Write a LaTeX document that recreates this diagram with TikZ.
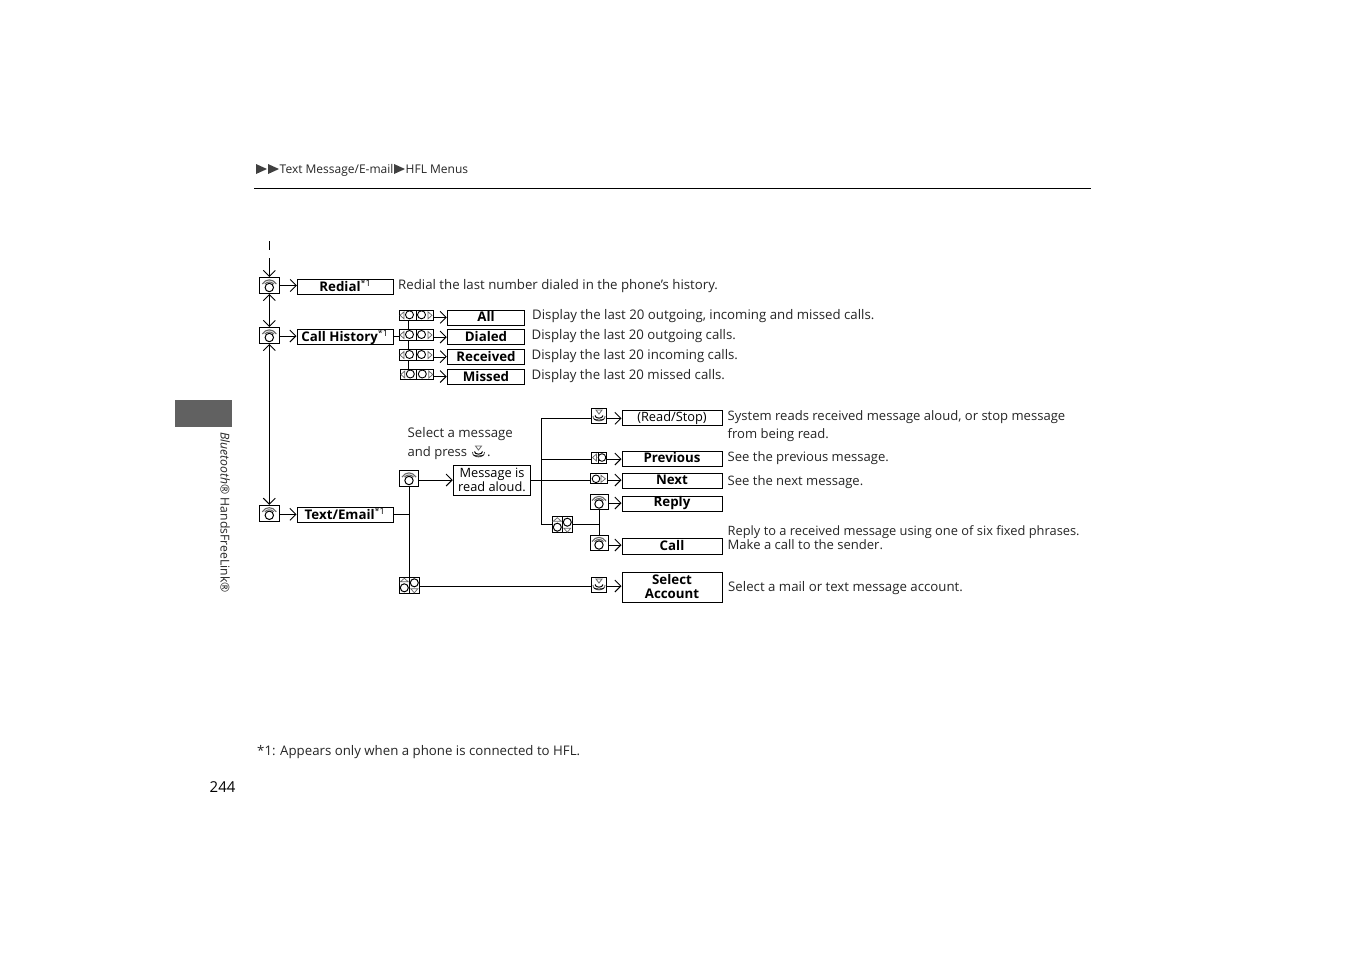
\documentclass[tikz,border=0pt]{standalone}
\usepackage{fontspec}
\setmainfont{Open Sans}
\usetikzlibrary{arrows.meta}
\newcommand{\bodyfs}{\fontsize{13.25}{14}\selectfont}
\newcommand{\rightfs}{\fontsize{13.05}{14}\selectfont}
\newcommand{\labfs}{\fontsize{13.3}{14}\selectfont\bfseries}
\newcommand{\smallast}{\textsuperscript{\fontsize{9}{9}\selectfont\mdseries *1}}
\tikzset{
  x=1pt,y=-1pt,
  line width=1pt,
  barb/.style={-{Straight Barb[length=6pt,width=12pt,line width=.9pt]}},
  bibarb/.style={{Straight Barb[length=6pt,width=12pt,line width=.9pt]}-{Straight Barb[length=6pt,width=12pt,line width=.9pt]}},
  lnk/.style={line width=1pt},
  txt/.style={anchor=base west,inner sep=0pt,font=\bodyfs,text=black!85},
  rtxt/.style={txt,font=\rightfs},
  menubox/.style={draw,line width=1pt,inner sep=0pt,minimum width=#1,align=center,font=\labfs},
  menubox/.default=96,
  iconbox/.style={draw,line width=1pt,inner sep=0pt,fill=white},
  phonepic/.pic={
    \draw[black!60,line width=1.1pt] (-7,-1.5) .. controls (-3.5,-7) and (3.5,-7) .. (7,-1.5);
    \draw[black!60,line width=1pt] (-4.5,-1.5) .. controls (-2,-4.2) and (2,-4.2) .. (4.5,-1.5);
    \draw[line width=1pt] (0,2) circle (4.2);
  },
  pressed/.pic={
    \draw[black!60,line width=.8pt] (-3,-6) -- (3,-6) -- (0,-2) -- cycle;
    \draw[line width=1pt] (-4,-.5) .. controls (-4,3) and (4,3) .. (4,-.5);
    \draw[black!70,line width=.8pt] (-6,0) .. controls (-6.5,6.5) and (6.5,6.5) .. (6,0);
    \draw[line width=.8pt] (-5,3) .. controls (-4,4.3) and (4,4.3) .. (5,3);
  },
  prevpic/.pic={
    \draw[black!60,line width=.7pt] (-2.5,-3.5) -- (-6.5,0) -- (-2.5,3.5) -- cycle;
    \draw[line width=.9pt] (-1,-5) -- (-1,5);
    \draw[line width=.9pt] (3,0) circle (3.8);
  },
  nextpic/.pic={
    \draw[black!60,line width=.7pt] (2.5,-3.5) -- (7,0) -- (2.5,3.5) -- cycle;
    \draw[line width=.9pt] (-2.5,0) circle (3.8);
  },
  dualpic/.pic={
    \draw[black!60,line width=.7pt] (-16,0) -- (-12,-3.5) -- (-12,3.5) -- cycle;
    \draw[line width=.9pt] (-6.5,-.5) circle (4);
    \draw[line width=.9pt] (0,-5) -- (0,5);
    \draw[line width=.9pt] (5.5,-.5) circle (4);
    \draw[black!60,line width=.7pt] (16,0) -- (12,-3.5) -- (12,3.5) -- cycle;
  },
  updnpic/.pic={
    \draw[black!60,line width=.7pt] (-9,-3.5) -- (-5,-7) -- (-1,-3.5) -- cycle;
    \draw[line width=1pt] (-5,2.5) circle (4);
    \draw[line width=.9pt] (0,-8) -- (0,8);
    \draw[line width=1pt] (5,-2.5) circle (4);
    \draw[black!60,line width=.7pt] (1.5,3.5) -- (8.5,3.5) -- (5,7.5) -- cycle;
  },
}
\begin{document}
\begin{tikzpicture}
\useasboundingbox (0,0) rectangle (1350,954);
\fill[white] (0,0) rectangle (1350,954);

% header
\coordinate (ruleL) at (254,188.5);
\coordinate (ruleR) at (1091,188.5);
\draw[line width=1pt] (ruleL) -- (ruleR);
\fill[black!75] (256,164) -- (267,169) -- (256,174) -- cycle;
\fill[black!75] (268,164) -- (279,169) -- (268,174) -- cycle;
\node[txt,font=\fontsize{12}{13}\selectfont] (crumbA) at (279.5,173) {Text Message/E-mail};
\fill[black!75] (394,164) -- (405,169) -- (394,174) -- cycle;
\node[txt,font=\fontsize{12}{13}\selectfont] (crumbB) at (405.5,173) {HFL Menus};

% side tab
\fill[black!62] (175,400) rectangle (231.5,426.7);
\node[anchor=base west,rotate=-90,inner sep=0pt,font=\fontsize{12.2}{12}\selectfont,text=black!85] (side) at (220.5,432) {\textit{Bluetooth®} HandsFreeLink®};

% phones
\node[iconbox,minimum width=20,minimum height=16] (p1) at (269.3,285.5) {};
\node[iconbox,minimum width=20,minimum height=16] (p2) at (269.3,335.5) {};
\node[iconbox,minimum width=20,minimum height=16] (p3) at (269.3,513.3) {};
\node[iconbox,minimum width=19.5,minimum height=16] (p4) at (409,478.5) {};
\node[iconbox,minimum width=18,minimum height=15.5] (p5) at (599,502) {};
\node[iconbox,minimum width=18,minimum height=15.5] (p6) at (599,543) {};
\foreach \n in {p1,p2,p3,p4,p5,p6} \pic at (\n) {phonepic};

% menu boxes, left
\node[menubox=96,minimum height=15] (redial) at (345.3,286.8) {\raisebox{3pt}{Redial\smallast}};
\node[menubox=96,minimum height=15] (hist) at (345,336.8) {\raisebox{-.5pt}{Call History\smallast}};
\node[menubox=96,minimum height=15] (text) at (345,514.8) {\raisebox{2pt}{Text/Email\smallast}};

% dial rows
\node[iconbox,minimum width=34,minimum height=10.5] (d1) at (416,315.3) {};
\node[iconbox,minimum width=34,minimum height=10.5] (d2) at (416,335) {};
\node[iconbox,minimum width=34,minimum height=10.5] (d3) at (416,355) {};
\node[iconbox,minimum width=33,minimum height=10.5] (d4) at (416.8,374.5) {};
\foreach \n in {d1,d2,d3,d4} \pic at (\n) {dualpic};

\node[menubox=77.5,minimum height=15] (all) at (486,317.8) {\raisebox{2.5pt}{All}};
\node[menubox=77.5,minimum height=15] (dialed) at (486,337.3) {\raisebox{1.5pt}{Dialed}};
\node[menubox=77.5,minimum height=15] (received) at (486,356.8) {\raisebox{1.5pt}{Received}};
\node[menubox=77.5,minimum height=15] (missed) at (486,377) {\raisebox{1.5pt}{Missed}};

% message
\node[menubox=77.5,minimum height=30,font=\fontsize{12.8}{13.5}\selectfont] (msg) at (492,480.7) {\raisebox{2.5pt}{Message is}\\\raisebox{2pt}{read aloud.}};

% right column icons
\node[iconbox,minimum width=15.5,minimum height=15] (rs) at (599,416) {};
\pic at (rs) {pressed};
\node[iconbox,minimum width=15.5,minimum height=11] (prev) at (599,457.5) {};
\pic at (prev) {prevpic};
\node[iconbox,minimum width=17,minimum height=10] (nxt) at (598.5,478.8) {};
\pic at (nxt) {nextpic};
\node[iconbox,minimum width=15.5,minimum height=15] (sa) at (599,585) {};
\pic at (sa) {pressed};
\node[iconbox,minimum width=20,minimum height=16] (ud1) at (562.3,524.7) {};
\pic at (ud1) {updnpic};
\node[iconbox,minimum width=20,minimum height=16] (ud2) at (409.3,585.3) {};
\pic at (ud2) {updnpic};

% right column boxes
\node[menubox=100,minimum height=15] (readstop) at (672,417.7) {\raisebox{-.5pt}{\fontsize{12.8}{14}\selectfont\mdseries (Read/Stop)}};
\node[menubox=100,minimum height=14.5] (previous) at (672,458.8) {\raisebox{2pt}{Previous}};
\node[menubox=100,minimum height=15] (next) at (672,480.8) {\raisebox{2pt}{Next}};
\node[menubox=100,minimum height=15] (reply) at (672,503.8) {\raisebox{4pt}{Reply}};
\node[menubox=100,minimum height=15.5] (call) at (672,546.5) {\raisebox{1.5pt}{Call}};
\node[menubox=100,minimum height=30,font=\fontsize{13.3}{14}\selectfont\bfseries] (acct) at (672,587.3) {\raisebox{2.5pt}{Select}\\\raisebox{2.5pt}{Account}};

% descriptions
\node[txt] (t1) at (398,289) {Redial the last number dialed in the phone’s history.};
\node[txt] (t2) at (532,319) {Display the last 20 outgoing, incoming and missed calls.};
\node[txt] (t3) at (531.5,339) {Display the last 20 outgoing calls.};
\node[txt] (t4) at (531.5,359) {Display the last 20 incoming calls.};
\node[txt] (t5) at (531.5,379) {Display the last 20 missed calls.};
\node[txt] (t6) at (407.5,437) {Select a message};
\node[rtxt] (t7) at (407.5,456) {and press};
\pic at (478.5,452) {pressed};
\node[txt] (t7b) at (487,456) {.};
\node[rtxt] (t8) at (727.5,420) {System reads received message aloud, or stop message};
\node[rtxt] (t9) at (727.5,438) {from being read.};
\node[rtxt] (t10) at (727.5,461) {See the previous message.};
\node[rtxt] (t11) at (727.5,485) {See the next message.};
\node[txt,font=\fontsize{12.85}{14}\selectfont] (t12) at (727.5,535) {Reply to a received message using one of six fixed phrases.};
\node[rtxt] (t13) at (727.5,549) {Make a call to the sender.};
\node[txt] (t14) at (728,591) {Select a mail or text message account.};
\node[txt] (t15) at (257,755) {*1: Appears only when a phone is connected to HFL.};
\node[txt,font=\fontsize{15}{16}\selectfont,text=black] (pg) at (209.5,792) {244};

% connectors
\coordinate (top1) at (269.3,241);
\coordinate (top2) at (269.3,249.5);
\coordinate (top3) at (269.3,258);
\draw[lnk] (top1) -- (top2);
\draw[barb] (top3) -- (p1.north);
\draw[bibarb] (p1.south) -- (p2.north);
\draw[bibarb] (p2.south) -- (p3.north);
\draw[barb] (p1.east) -- (p1.east -| redial.west);
\draw[barb] ([yshift=-.5pt]p2.east) -- ([yshift=-.5pt]p2.east -| hist.west);
\draw[barb] ([yshift=-1pt]p3.east) -- ([yshift=-1pt]p3.east -| text.west);

% call history tree
\draw[lnk] (hist.east) -- (d2.west |- hist.east);
\coordinate (tree) at (408.3,320);
\draw[lnk] (tree |- d1.south) -- (tree |- d2.north);
\draw[lnk] (tree |- d2.south) -- (tree |- d3.north);
\draw[lnk] (tree |- d3.south) -- (tree |- d4.north);
\draw[barb] ([yshift=-2pt]d1.east) -- ([yshift=-2pt]d1.east -| all.west);
\draw[barb] ([yshift=-2pt]d2.east) -- ([yshift=-2pt]d2.east -| dialed.west);
\draw[barb] ([yshift=-1.7pt]d3.east) -- ([yshift=-1.7pt]d3.east -| received.west);
\draw[barb] ([yshift=-2pt]d4.east) -- ([yshift=-2pt]d4.east -| missed.west);

% text/email tree
\draw[lnk] (text.east) -- (p4.south |- text.east);
\draw[lnk] (p4.south) -- (p4.south |- ud2.north);
\draw[barb] ([yshift=-1.5pt]p4.east) -- ([yshift=-1.5pt]p4.east -| msg.west);
\coordinate (bus) at (541.7,418.3);
\draw[lnk] (msg.east) -- (nxt.west |- msg.east);
\draw[lnk] (rs.west |- bus) -- (bus) -- (bus |- ud1.west) -- (ud1.west);
\draw[lnk] (bus |- prev.east) ++(0,1.8) -- (prev.west |- 0,459.3);
\draw[lnk] (ud1.east) -- (p5.south |- ud1.east);
\draw[lnk] (p5.south) -- (p6.north);
\draw[lnk] ([yshift=-.7pt]ud2.east) -- ([yshift=-.7pt]ud2.east -| sa.west);
\draw[barb] ([yshift=-2.3pt]rs.east) -- ([yshift=-2.3pt]rs.east -| readstop.west);
\draw[barb] ([yshift=-1.5pt]prev.east) -- ([yshift=-1.5pt]prev.east -| previous.west);
\draw[barb] ([yshift=-1.2pt]nxt.east) -- ([yshift=-1.2pt]nxt.east -| next.west);
\draw[barb] ([yshift=-1pt]p5.east) -- ([yshift=-1pt]p5.east -| reply.west);
\draw[barb] ([yshift=-2pt]p6.east) -- ([yshift=-2pt]p6.east -| call.west);
\draw[barb] ([yshift=-1pt]sa.east) -- ([yshift=-1pt]sa.east -| acct.west);
\end{tikzpicture}
\end{document}
